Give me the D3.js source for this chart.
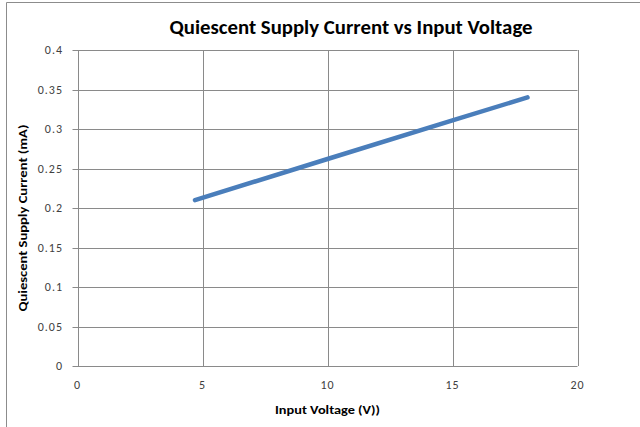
<!DOCTYPE html>
<html><head><meta charset="utf-8">
<script src="https://cdn.jsdelivr.net/npm/d3@7"></script>
<style>body{margin:0;background:#fff}svg{display:block}</style>
</head><body>
<svg id="c" width="640" height="427"></svg>
<script>
const title = "Quiescent Supply Current vs Input Voltage";
const xTitle = "Input Voltage (V))";
const yTitle = "Quiescent Supply Current (mA)";
const voltage = [4.7, 10, 15, 18];
const current = [0.21, 0.262, 0.311, 0.34];
const xTicks = [0, 5, 10, 15, 20];
const yTicks = [0, 0.05, 0.1, 0.15, 0.2, 0.25, 0.3, 0.35, 0.4];

const svg = d3.select("#c");
const font = "Calibri, Carlito, 'Open Sans', 'Liberation Sans', sans-serif";
const x = d3.scaleLinear().domain([0, 20]).range([77.5, 577.5]);
const y = d3.scaleLinear().domain([0, 0.4]).range([366, 50]);

// outer chart border (cropped)
svg.append("path").attr("d", "M6.5,427 V2.5 H640").attr("fill", "none").attr("stroke", "#8c8c8c").attr("stroke-width", 1);

// gridlines
const g = svg.append("g");
g.selectAll(".hg").data(yTicks).join("line")
  .attr("x1", x(0) - 5).attr("x2", x(20))
  .attr("y1", d => Math.round(y(d)) + 0.5).attr("y2", d => Math.round(y(d)) + 0.5)
  .attr("stroke", "#8a8a8a");
g.selectAll(".vg").data(xTicks).join("line")
  .attr("x1", d => Math.round(x(d)) + 0.5).attr("x2", d => Math.round(x(d)) + 0.5)
  .attr("y1", y(0.4)).attr("y2", y(0))
  .attr("stroke", "#8a8a8a");

// tick labels
g.selectAll(".yl").data(yTicks).join("text")
  .attr("x", 63).attr("y", d => y(d)).attr("dy", "0.35em")
  .attr("text-anchor", "end").attr("font-family", font).attr("font-size", 12)
  .attr("letter-spacing", 1)
  .attr("fill", "#404040").text(d => d3.format("")(d));
g.selectAll(".xl").data(xTicks).join("text")
  .attr("x", d => x(d)).attr("y", 385).attr("dy", "0.35em")
  .attr("text-anchor", "middle").attr("font-family", font).attr("font-size", 12)
  .attr("letter-spacing", 1)
  .attr("fill", "#404040").text(d => d);

// line
const pts = voltage.map((v, i) => [v, current[i]]);
svg.append("path").datum(pts)
  .attr("d", d3.line().x(d => x(d[0])).y(d => y(d[1])))
  .attr("fill", "none").attr("stroke", "#4a7ebb").attr("stroke-width", 4.5)
  .attr("stroke-linecap", "round").attr("stroke-linejoin", "round");

// titles
svg.append("text").attr("x", 351).attr("y", 34).attr("text-anchor", "middle")
  .attr("font-family", font).attr("font-weight", "bold").attr("font-size", 20)
  .attr("textLength", 363).attr("lengthAdjust", "spacingAndGlyphs")
  .attr("fill", "#000").text(title);
svg.append("text").attr("x", 327.5).attr("y", 414).attr("text-anchor", "middle")
  .attr("font-family", font).attr("font-weight", "bold").attr("font-size", 12.5)
  .attr("textLength", 105).attr("lengthAdjust", "spacingAndGlyphs")
  .attr("fill", "#000").text(xTitle);
svg.append("text").attr("transform", "translate(27,218) rotate(-90)").attr("text-anchor", "middle")
  .attr("font-family", font).attr("font-weight", "bold").attr("font-size", 12.5)
  .attr("textLength", 187).attr("lengthAdjust", "spacingAndGlyphs")
  .attr("fill", "#000").text(yTitle);
</script>
</body></html>
